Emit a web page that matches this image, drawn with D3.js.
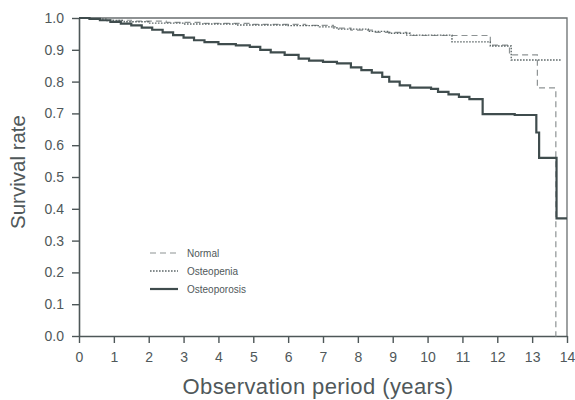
<!DOCTYPE html>
<html>
<head>
<meta charset="utf-8">
<script src="https://cdn.jsdelivr.net/npm/d3@7"></script>
<style>
  html, body { margin: 0; padding: 0; background: #fff; }
  svg { display: block; }
  text { font-family: "Liberation Sans", Arial, sans-serif; fill: #50585a; }
</style>
</head>
<body>
<svg id="chart" width="575" height="400"></svg>
<script>
// Kaplan–Meier step points: [years, survival]
const normalTimes = [0, 0.5, 1.0, 1.5, 2.5, 3.5, 5.0, 6.5, 7.3, 7.8, 8.5, 9.4, 11.8, 12.35, 13.15, 13.68, 13.7];
const normalSurv  = [1.0, 0.998, 0.993, 0.99, 0.986, 0.983, 0.980, 0.977, 0.968, 0.962, 0.955, 0.945, 0.915, 0.884, 0.78, 0.0, 0.0];

const osteopeniaTimes = [0, 0.3, 0.8, 1.3, 2.0, 3.0, 4.5, 6.0, 6.9, 7.4, 8.3, 8.9, 9.5, 10.7, 11.8, 12.4, 13.85];
const osteopeniaSurv  = [1.0, 0.997, 0.992, 0.988, 0.984, 0.981, 0.978, 0.976, 0.972, 0.965, 0.958, 0.952, 0.946, 0.925, 0.912, 0.868, 0.868];

const osteoporosisTimes = [0, 0.3, 0.6, 0.9, 1.2, 1.5, 1.8, 2.1, 2.4, 2.7, 3.0, 3.3, 3.6, 4.0, 4.5, 4.9, 5.2, 5.5, 5.9, 6.3, 6.6, 7.0, 7.4, 7.8, 8.1, 8.4, 8.7, 8.9, 9.2, 9.5, 10.1, 10.3, 10.6, 10.9, 11.2, 11.58, 12.5, 13.12, 13.2, 13.7, 14.0];
const osteoporosisSurv  = [1.0, 0.997, 0.993, 0.988, 0.982, 0.977, 0.970, 0.963, 0.955, 0.946, 0.938, 0.930, 0.924, 0.918, 0.914, 0.909, 0.900, 0.892, 0.884, 0.872, 0.866, 0.862, 0.857, 0.845, 0.836, 0.828, 0.815, 0.800, 0.788, 0.781, 0.777, 0.768, 0.760, 0.752, 0.745, 0.698, 0.695, 0.640, 0.560, 0.370, 0.370];

const xTicks = [0, 1, 2, 3, 4, 5, 6, 7, 8, 9, 10, 11, 12, 13, 14];
const yTicks = [0.0, 0.1, 0.2, 0.3, 0.4, 0.5, 0.6, 0.7, 0.8, 0.9, 1.0];

const legendLabels = ["Normal", "Osteopenia", "Osteoporosis"];

const svg = d3.select("#chart");
const margin = { left: 79, right: 8, top: 18, bottom: 64 };
const W = 575, H = 400;

const x = d3.scaleLinear().domain([0, 14]).range([margin.left, W - margin.right]);
const y = d3.scaleLinear().domain([0, 1]).range([H - margin.bottom, margin.top]);

const ink = "#4e5758";

// frame (top and right)
svg.append("path")
  .attr("d", `M${x(0)},${y(1)}H${x(14)}V${y(0)}`)
  .attr("fill", "none").attr("stroke", "#6a6f70").attr("stroke-width", 1.3);

// axes
const xAxis = svg.append("g")
  .attr("transform", `translate(0,${y(0)})`)
  .call(d3.axisBottom(x).tickValues(xTicks).tickFormat(d3.format("d")).tickSizeInner(7).tickSizeOuter(0).tickPadding(9));
const yAxis = svg.append("g")
  .attr("transform", `translate(${x(0)},0)`)
  .call(d3.axisLeft(y).tickValues(yTicks).tickFormat(d3.format(".1f")).tickSizeInner(7).tickSizeOuter(0).tickPadding(8));

[xAxis, yAxis].forEach(g => {
  g.select(".domain").attr("stroke", ink).attr("stroke-width", 1.6);
  g.selectAll(".tick line").attr("stroke", ink).attr("stroke-width", 1.4);
  g.selectAll(".tick text")
    .attr("font-size", 14)
    .attr("font-family", "\"Liberation Sans\", Arial, sans-serif")
    .attr("fill", "#50585a");
});

// survival curves
const line = d3.line()
  .x(d => x(d[0]))
  .y(d => y(d[1]))
  .curve(d3.curveStepAfter);

const series = [
  { name: "Normal", t: normalTimes, s: normalSurv, color: "#8d9394", width: 1.2, dash: "6,4" },
  { name: "Osteopenia", t: osteopeniaTimes, s: osteopeniaSurv, color: "#5e6869", width: 1.4, dash: "1.6,1.4" },
  { name: "Osteoporosis", t: osteoporosisTimes, s: osteoporosisSurv, color: "#3f4c4d", width: 2.2, dash: null }
];

series.forEach(sr => {
  const pts = sr.t.map((t, i) => [t, sr.s[i]]);
  svg.append("path")
    .datum(pts)
    .attr("d", line)
    .attr("fill", "none")
    .attr("stroke", sr.color)
    .attr("stroke-width", sr.width)
    .attr("stroke-dasharray", sr.dash);
});

// legend
const lg = svg.append("g");
series.forEach((sr, i) => {
  const ly = 253 + i * 18;
  lg.append("line")
    .attr("x1", 150).attr("x2", 178).attr("y1", ly).attr("y2", ly)
    .attr("stroke", sr.color).attr("stroke-width", sr.width)
    .attr("stroke-dasharray", sr.dash);
  lg.append("text")
    .attr("x", 187).attr("y", ly + 3.5)
    .attr("font-size", 10)
    .attr("fill", "#5a6061")
    .text(legendLabels[i]);
});

// axis titles
svg.append("text")
  .attr("x", 318).attr("y", 394)
  .attr("text-anchor", "middle")
  .attr("font-size", 22)
  .attr("letter-spacing", 0.4)
  .text("Observation period (years)");

svg.append("text")
  .attr("transform", `translate(25,172) rotate(-90)`)
  .attr("text-anchor", "middle")
  .attr("font-size", 20.5)
  .text("Survival rate");
</script>
</body>
</html>
